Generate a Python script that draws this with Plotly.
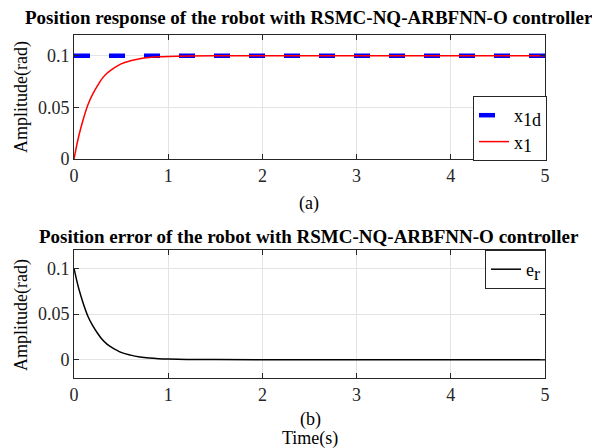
import plotly.graph_objects as go

# ---- data ----
t = [0, 0.05, 0.1, 0.15, 0.2, 0.25, 0.3, 0.35, 0.4, 0.5, 0.6, 0.7, 0.8, 0.9, 1.0, 1.2, 1.5, 2, 3, 4, 5]
x1d = [0.1] * len(t)
x1 = [0, 0.022, 0.039, 0.053, 0.063, 0.071, 0.078, 0.083, 0.0865, 0.092, 0.095, 0.097, 0.0982, 0.0989,
      0.0993, 0.0997, 0.0999, 0.1, 0.1, 0.1, 0.1]
er = [0.1, 0.078, 0.061, 0.047, 0.037, 0.029, 0.022, 0.017, 0.0135, 0.008, 0.005, 0.003, 0.0018, 0.0011,
      0.0007, 0.0003, 0.0001, 0, 0, 0, 0]
xticks = [0, 1, 2, 3, 4, 5]
yticks = [0, 0.05, 0.1]
ytick_text = ["0", "0.05", "0.1"]

W, H = 592, 448
FONT = "Liberation Serif"
FS = 18

def px_x(p):
    return p / W

def px_y(p):
    return 1 - p / H

def sub(base, s):
    return f"{base}<sub><span style='font-size:{FS}px'>{s}</span></sub>"

fig = go.Figure()
fig.add_trace(go.Scatter(x=t, y=x1d, mode="lines", name=sub("x", "1d"),
                         line=dict(color="#0000ff", width=4.5, dash="16px,19px"),
                         xaxis="x", yaxis="y", legend="legend"))
fig.add_trace(go.Scatter(x=t, y=x1, mode="lines", name=sub("x", "1"),
                         line=dict(color="#ff0000", width=1.5, shape="spline"),
                         xaxis="x", yaxis="y", legend="legend"))
fig.add_trace(go.Scatter(x=t, y=er, mode="lines", name=sub("e", "r"),
                         line=dict(color="#000000", width=1.5, shape="spline"),
                         xaxis="x2", yaxis="y2", legend="legend2"))

axis_common = dict(showline=True, linecolor="#262626", linewidth=1, mirror="all",
                   ticks="inside", ticklen=5, tickcolor="#262626", automargin=False,
                   showgrid=True, gridcolor="#e3e3e3", gridwidth=1, zeroline=False,
                   tickfont=dict(family=FONT, size=FS, color="#262626"))

xdom = [px_x(74), px_x(545)]
fig.update_layout(
    width=W, height=H, margin=dict(l=0, r=0, t=0, b=0, autoexpand=False),
    paper_bgcolor="white", plot_bgcolor="white",
    font=dict(family=FONT, size=FS, color="#262626"),
    xaxis=dict(domain=xdom, range=[0, 5], tickvals=xticks, anchor="y", **axis_common),
    yaxis=dict(domain=[px_y(159), px_y(35)], range=[0, 0.12], tickvals=yticks, ticktext=ytick_text,
               anchor="x", **axis_common),
    xaxis2=dict(domain=xdom, range=[0, 5], tickvals=xticks, anchor="y2", **axis_common),
    yaxis2=dict(domain=[px_y(378), px_y(250)], range=[-0.02, 0.12], tickvals=yticks, ticktext=ytick_text,
                anchor="x2", **axis_common),
    legend=dict(x=px_x(547), y=px_y(161), xanchor="right", yanchor="bottom",
                bgcolor="white", bordercolor="#262626", borderwidth=1,
                font=dict(family=FONT, size=FS, color="#000000"), tracegroupgap=0),
    legend2=dict(x=px_x(546), y=px_y(250), xanchor="right", yanchor="top",
                 bgcolor="white", bordercolor="#262626", borderwidth=1,
                 font=dict(family=FONT, size=FS, color="#000000")),
    showlegend=True,
)

ann = [
    dict(text="<b>Position response of the robot with RSMC-NQ-ARBFNN-O controller</b>", x=px_x(309), y=px_y(17), size=19),
    dict(text="(a)", x=px_x(309), y=px_y(204), size=FS),
    dict(text="<b>Position error of the robot with RSMC-NQ-ARBFNN-O controller</b>", x=px_x(309), y=px_y(237), size=19),
    dict(text="(b)", x=px_x(310), y=px_y(419), size=FS),
    dict(text="Time(s)", x=px_x(310), y=px_y(438), size=FS),
    dict(text="Amplitude(rad)", x=px_x(21), y=px_y(97), textangle=-90, size=FS),
    dict(text="Amplitude(rad)", x=px_x(21), y=px_y(315), textangle=-90, size=FS),
]
for a in ann:
    size = a.pop("size")
    fig.add_annotation(xref="paper", yref="paper", xanchor="center", yanchor="middle", showarrow=False,
                       font=dict(family=FONT, size=size, color="#000000"), **a)

fig.write_html("out.html")
